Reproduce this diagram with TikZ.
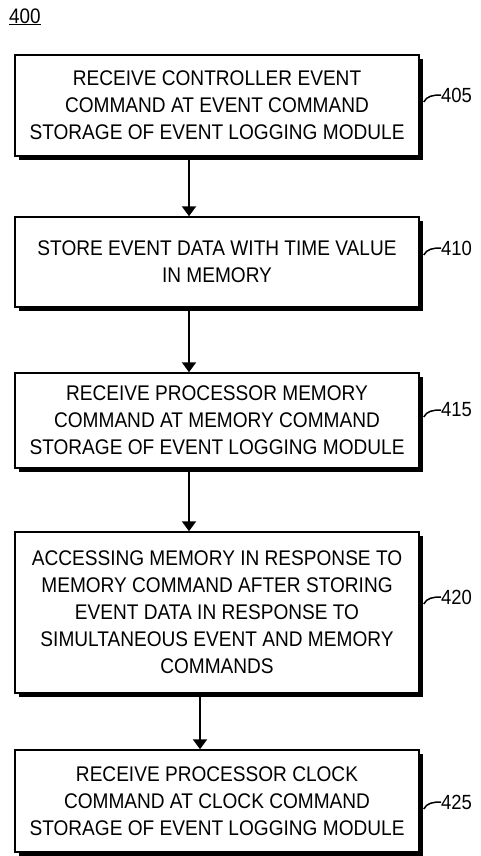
\documentclass[tikz,border=0pt]{standalone}
\usepackage{fontspec}
\setmainfont{Liberation Sans}
\newfontfamily\boxfont[FakeStretch=0.9]{Liberation Sans}
\usetikzlibrary{arrows.meta,calc,shadows}
\begin{document}
\begin{tikzpicture}[x=1bp,y=-1bp,
  box/.style={draw=black, line width=1.5bp, fill=white, minimum width=404bp,
    inner sep=0pt, align=center, font=\boxfont\fontsize{21.2bp}{27bp}\selectfont,
    drop shadow={shadow xshift=4bp, shadow yshift=-4bp, fill=black, opacity=1}},
  lab/.style={font=\boxfont\fontsize{20.5bp}{22bp}\selectfont, inner sep=0pt, anchor=west},
  arr/.style={line width=2.2bp, -{Triangle[length=10bp,width=14bp]}},
  lead/.style={line width=1.5bp}]
\useasboundingbox (0,0) rectangle (481,856);

\node[anchor=base west, inner sep=0pt, font=\boxfont\fontsize{21bp}{22bp}\selectfont] (n400) at (9,23) {\underline{400}};

\node[box, minimum height=101bp] (b1) at (217,105.5)
  {RECEIVE CONTROLLER EVENT\\COMMAND AT EVENT COMMAND\\STORAGE OF EVENT LOGGING MODULE};
\node[box, minimum height=90bp] (b2) at (217,262)
  {STORE EVENT DATA WITH TIME VALUE\\IN MEMORY};
\node[box, minimum height=95bp] (b3) at (217,420.5)
  {RECEIVE PROCESSOR MEMORY\\COMMAND AT MEMORY COMMAND\\STORAGE OF EVENT LOGGING MODULE};
\node[box, minimum height=161bp] (b4) at (217,612.5)
  {ACCESSING MEMORY IN RESPONSE TO\\MEMORY COMMAND AFTER STORING\\EVENT DATA IN RESPONSE TO\\SIMULTANEOUS EVENT AND MEMORY\\COMMANDS};
\node[box, minimum height=102bp] (b5) at (217,801)
  {RECEIVE PROCESSOR CLOCK\\COMMAND AT CLOCK COMMAND\\STORAGE OF EVENT LOGGING MODULE};

\draw[arr] ([xshift=-28bp]b1.south) -- ([xshift=-28bp]b2.north);
\draw[arr] ([xshift=-28bp]b2.south) -- ([xshift=-28bp]b3.north);
\draw[arr] ([xshift=-28bp]b3.south) -- ([xshift=-28bp]b4.north);
\draw[arr] ([xshift=-17bp]b4.south) -- ([xshift=-17bp]b5.north);

\node[lab] (l405) at (441,95) {405};
\node[lab] (l410) at (441,248) {410};
\node[lab] (l415) at (441,410) {415};
\node[lab] (l420) at (441,597) {420};
\node[lab] (l425) at (441,802) {425};

\foreach \b/\l in {b1/l405, b2/l410, b3/l415, b4/l420, b5/l425}
  \draw[lead] ($(\b.east |- \l.west)+(4,7)$) .. controls +(3,-6) and +(-8,0) .. (\l.west);
\end{tikzpicture}
\end{document}
